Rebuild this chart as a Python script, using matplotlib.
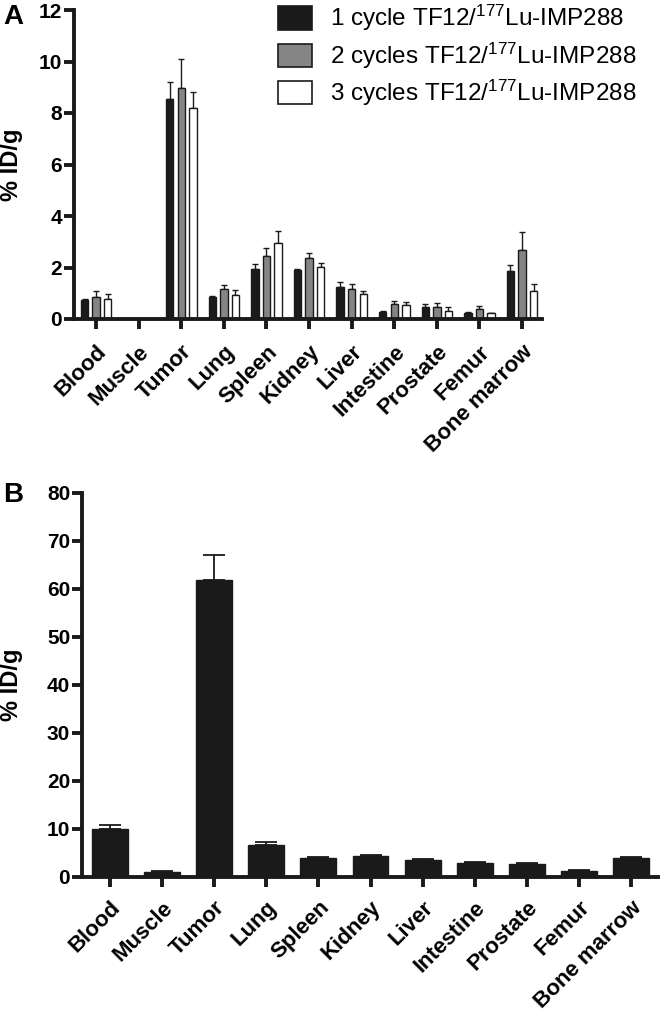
import numpy as np
import matplotlib
matplotlib.use("Agg")
import matplotlib.pyplot as plt

plt.rcParams['font.family'] = ['Liberation Sans', 'DejaVu Sans']
plt.rcParams['mathtext.default'] = 'regular'

nan = np.nan
categories = ['Blood', 'Muscle', 'Tumor', 'Lung', 'Spleen', 'Kidney', 'Liver',
              'Intestine', 'Prostate', 'Femur', 'Bone marrow']

# Panel A
cyc1 = [0.72, nan, 8.54, 0.84, 1.93, 1.91, 1.23, 0.29, 0.48, 0.25, 1.86]
cyc1_err = [0.06, nan, 0.66, 0.06, 0.21, 0.04, 0.21, 0.03, 0.12, 0.02, 0.22]
cyc2 = [0.85, nan, 8.98, 1.15, 2.43, 2.35, 1.15, 0.60, 0.48, 0.39, 2.67]
cyc2_err = [0.22, nan, 1.10, 0.18, 0.33, 0.20, 0.21, 0.11, 0.15, 0.11, 0.71]
cyc3 = [0.76, nan, 8.18, 0.94, 2.97, 2.01, 0.97, 0.56, 0.33, 0.22, 1.07]
cyc3_err = [0.23, nan, 0.63, 0.17, 0.43, 0.15, 0.13, 0.09, 0.15, 0.03, 0.29]
series_labels = [r'1 cycle TF12/$^{177}$Lu-IMP288',
                 r'2 cycles TF12/$^{177}$Lu-IMP288',
                 r'3 cycles TF12/$^{177}$Lu-IMP288']
yticks_a = [0, 2, 4, 6, 8, 10, 12]

# Panel B
single = [10.0, 1.1, 61.9, 6.6, 3.9, 4.3, 3.5, 2.9, 2.7, 1.3, 3.9]
single_err = [0.8, 0.25, 5.1, 0.6, 0.3, 0.3, 0.3, 0.3, 0.3, 0.2, 0.3]
yticks_b = [0, 10, 20, 30, 40, 50, 60, 70, 80]

W, H = 660, 1011
fig = plt.figure(figsize=(W / 100, H / 100), dpi=100)

def fx(px):
    return px / W

def fy(py):
    return 1 - py / H

axA = fig.add_axes([fx(74), fy(319), fx(542) - fx(74), fy(10) - fy(319)])
axB = fig.add_axes([fx(82), fy(877), fx(658) - fx(82), fy(493) - fy(877)])

SPINE_LW = 2.8
for ax in (axA, axB):
    for s in ('top', 'right'):
        ax.spines[s].set_visible(False)
    for s in ('left', 'bottom'):
        ax.spines[s].set_linewidth(SPINE_LW)
        ax.spines[s].set_color('#1a1a1a')
    ax.tick_params(axis='both', direction='out', length=7, width=SPINE_LW,
                   color='#1a1a1a', labelsize=15)
    ax.tick_params(axis='y', pad=1.5)
    ax.tick_params(axis='x', pad=9, labelsize=16)
axB.tick_params(axis='x', pad=7.5)

x = np.arange(len(categories))
bw = 0.175
off = 0.272
colors = ['#1a1a1a', '#858585', '#ffffff']
vals = [cyc1, cyc2, cyc3]
errs = [cyc1_err, cyc2_err, cyc3_err]
handles = []
for i, (v, e, c, lab) in enumerate(zip(vals, errs, colors, series_labels)):
    xi = x + (i - 1) * off
    b = axA.bar(xi, v, width=bw, color=c, edgecolor='#1a1a1a', linewidth=1.0,
                label=lab, zorder=2)
    handles.append(b)
    e_arr = np.array(e)
    axA.errorbar(xi, v, yerr=[np.zeros_like(e_arr), e_arr], fmt='none',
                 ecolor='#1a1a1a', elinewidth=1.0, capsize=2.2, capthick=1.0,
                 zorder=1)

axA.set_xlim(-0.52, 10.47)
axA.set_ylim(0, 12)
axA.set_yticks(yticks_a)
axA.set_xticks(x)
axA.set_xticklabels(categories, rotation=45, ha='right', va='top',
                    rotation_mode='anchor', fontweight='bold')
for t in axA.get_yticklabels():
    t.set_fontweight('bold')
axA.set_ylabel('% ID/g', fontsize=17, fontweight='bold')
axA.yaxis.set_label_coords((23 - 74) / 468, 0.5)

leg = fig.legend(handles=handles, labels=series_labels, loc='upper left',
                 bbox_to_anchor=(fx(278), fy(3)), frameon=False, fontsize=17.5,
                 handlelength=1.4, handleheight=1.1, labelspacing=0.3,
                 handletextpad=0.75, borderpad=0, borderaxespad=0)
for p in leg.get_patches():
    p.set_linewidth(1.2)

# Panel B
axB.bar(x, single, width=0.69, color='#1a1a1a', edgecolor='#1a1a1a',
        linewidth=1.0, zorder=2)
se = np.array(single_err)
axB.errorbar(x, single, yerr=[np.zeros_like(se), se], fmt='none',
             ecolor='#1a1a1a', elinewidth=1.3, capsize=8, capthick=1.3, zorder=1)
axB.set_xlim(-0.54, 10.52)
axB.set_ylim(0, 80)
axB.set_yticks(yticks_b)
axB.set_xticks(x)
axB.set_xticklabels(categories, rotation=45, ha='right', va='top',
                    rotation_mode='anchor', fontweight='bold')
for t in axB.get_yticklabels():
    t.set_fontweight('bold')
axB.set_ylabel('% ID/g', fontsize=17, fontweight='bold')
axB.yaxis.set_label_coords((23 - 82) / 576, 0.5)

fig.text(fx(3), fy(4), 'A', fontsize=20, fontweight='bold', ha='left', va='top')
fig.text(fx(3), fy(482), 'B', fontsize=20, fontweight='bold', ha='left', va='top')

fig.savefig('out.png', dpi=100)
